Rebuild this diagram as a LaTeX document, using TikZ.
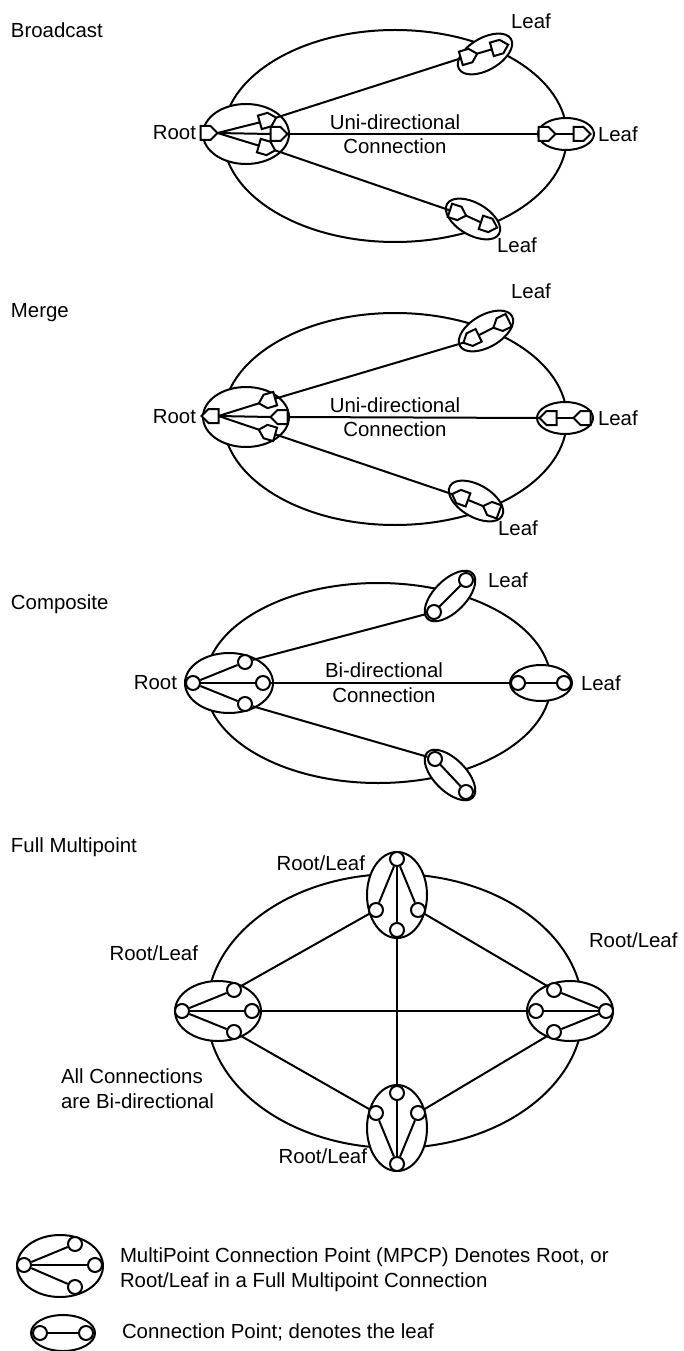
\documentclass[tikz,border=0pt]{standalone}
\usepackage{fontspec}
\setmainfont{Liberation Sans}
\usetikzlibrary{shapes.geometric}
\tikzset{
  pent/.pic={
    \draw[fill=white] (-8.5,-7) -- (1.5,-7) -- (8.5,0) -- (1.5,7) -- (-8.5,7) -- cycle;
    \coordinate (-b) at (-8.5,0);
    \coordinate (-t) at (8.5,0);
  },
  ell/.style n args={2}{ellipse, draw, fill=white, inner sep=0pt, minimum width=#1*0.75pt, minimum height=#2*0.75pt},
  bigell/.style n args={2}{ellipse, draw, inner sep=0pt, minimum width=#1*0.75pt, minimum height=#2*0.75pt},
  cp/.style={circle, draw, fill=white, inner sep=0pt, minimum size=10.5pt},
  lbl/.style={font=\fontsize{15.3}{18.5}\selectfont, inner sep=0pt},
}
\begin{document}
\begin{tikzpicture}[x=0.75pt,y=-0.75pt,line width=1.5pt]
\useasboundingbox (0,0) rectangle (683,1351);

% ================= Broadcast =================
\node[lbl, anchor=west] (tB) at (10,30) {Broadcast};
\node[bigell={344}{212}] (eB) at (395,136) {};
\node[ell={86}{60}] (rB) at (246,134) {};
\node[ell={60}{32}, rotate=30] (lB1) at (485,54) {};
\node[ell={56}{32}] (lB2) at (566,134) {};
\node[ell={60}{32}, rotate=-30] (lB3) at (473,219) {};
\pic (pB0) at (209,133) {pent};
\pic[rotate=16] (pB1) at (268,120) {pent};
\pic (pB2) at (279,134) {pent};
\pic[rotate=-16] (pB3) at (267,148) {pent};
\pic[rotate=16] (qB1a) at (469,56) {pent};
\pic[rotate=16] (qB1b) at (500,47) {pent};
\pic (qB2a) at (547,134) {pent};
\pic (qB2b) at (582,134) {pent};
\pic[rotate=-18] (qB3a) at (458,213) {pent};
\pic[rotate=-18] (qB3b) at (489,225) {pent};
\draw (pB0-t) -- (pB1-b);
\draw (pB0-t) -- (pB2-b);
\draw (pB0-t) -- (pB3-b);
\draw (pB1-t) -- (qB1a-b);
\draw (pB2-t) -- (qB2a-b);
\draw (pB3-t) -- (qB3a-b);
\draw (qB1a-t) -- (qB1b-b);
\draw (qB2a-t) -- (qB2b-b);
\draw (qB3a-t) -- (qB3b-b);
\node[lbl, anchor=east] (xB0) at (197,133) {Root};
\node[lbl] (xB1) at (531,21) {Leaf};
\node[lbl, anchor=west] (xB2) at (597,134) {Leaf};
\node[lbl] (xB3) at (517,245) {Leaf};
\node[lbl] (uB1) at (395,122) {Uni-directional};
\node[lbl] (uB2) at (395,146) {Connection};

% ================= Merge =================
\node[lbl, anchor=west] (tM) at (10,313) {Merge};
\node[bigell={344}{212}] (eM) at (395,419) {};
\node[ell={86}{60}] (rM) at (246,417) {};
\node[ell={60}{32}, rotate=30] (lM1) at (486,331) {};
\node[ell={56}{32}] (lM2) at (565,418) {};
\node[ell={60}{32}, rotate=-30] (lM3) at (476,501) {};
\pic[rotate=180] (pM0) at (210,416) {pent};
\pic[rotate=196] (pM1) at (267,401) {pent};
\pic[rotate=180] (pM2) at (279,417) {pent};
\pic[rotate=164] (pM3) at (267,432) {pent};
\pic[rotate=206] (qM1a) at (471,339) {pent};
\pic[rotate=206] (qM1b) at (501,324) {pent};
\pic[rotate=180] (qM2a) at (548,418) {pent};
\pic[rotate=180] (qM2b) at (582,418) {pent};
\pic[rotate=160] (qM3a) at (460,497) {pent};
\pic[rotate=160] (qM3b) at (491,509) {pent};
\draw (pM1-t) -- (pM0-b);
\draw (pM2-t) -- (pM0-b);
\draw (pM3-t) -- (pM0-b);
\draw (qM1a-t) -- (pM1-b);
\draw (qM2a-t) -- (pM2-b);
\draw (qM3a-t) -- (pM3-b);
\draw (qM1b-t) -- (qM1a-b);
\draw (qM2b-t) -- (qM2a-b);
\draw (qM3b-t) -- (qM3a-b);
\node[lbl, anchor=east] (xM0) at (197,417) {Root};
\node[lbl] (xM1) at (531,291) {Leaf};
\node[lbl, anchor=west] (xM2) at (597,418) {Leaf};
\node[lbl] (xM3) at (518,528) {Leaf};
\node[lbl] (uM1) at (395,405) {Uni-directional};
\node[lbl] (uM2) at (395,429) {Connection};

% ================= Composite =================
\node[lbl, anchor=west] (tC) at (10,604) {Composite};
\node[bigell={346}{200}] (eC) at (378,683) {};
\node[ell={88}{60}] (rC) at (229,683) {};
\node[ell={64}{32}, rotate=45] (lC1) at (450,596) {};
\node[ell={62}{36}] (lC2) at (541,683) {};
\node[ell={64}{32}, rotate=-45] (lC3) at (450,775) {};
\node[cp] (cC0) at (193,683) {};
\node[cp] (cC1) at (245,662) {};
\node[cp] (cC2) at (263,683) {};
\node[cp] (cC3) at (245,704) {};
\node[cp] (dC1a) at (434,612) {};
\node[cp] (dC1b) at (466,580) {};
\node[cp] (dC2a) at (518,683) {};
\node[cp] (dC2b) at (564,683) {};
\node[cp] (dC3a) at (435,759) {};
\node[cp] (dC3b) at (466,792) {};
\draw (cC0) -- (cC1);
\draw (cC0) -- (cC2);
\draw (cC0) -- (cC3);
\draw (cC1) -- (dC1a);
\draw (cC2) -- (dC2a);
\draw (cC3) -- (dC3a);
\draw (dC1a) -- (dC1b);
\draw (dC2a) -- (dC2b);
\draw (dC3a) -- (dC3b);
\node[lbl, anchor=east] (xC0) at (178,683) {Root};
\node[lbl] (xC1) at (508,580) {Leaf};
\node[lbl, anchor=west] (xC2) at (580,683) {Leaf};
\node[lbl] (uC1) at (384,670) {Bi-directional};
\node[lbl] (uC2) at (384,695) {Connection};

% ================= Full Multipoint =================
\node[lbl, anchor=west] (tF) at (10,847) {Full Multipoint};
\node[bigell={376}{274}] (eF) at (395,1011) {};
\node[ell={60}{86}] (nT) at (397,895) {};
\node[ell={86}{60}] (nL) at (218,1011) {};
\node[ell={86}{60}] (nR) at (570,1011) {};
\node[ell={60}{86}] (nB) at (397,1128) {};
\node[cp] (T0) at (397,859) {};
\node[cp] (T1) at (376,910) {};
\node[cp] (T2) at (397,930) {};
\node[cp] (T3) at (418,910) {};
\node[cp] (B0) at (397,1164) {};
\node[cp] (B1) at (376,1113) {};
\node[cp] (B2) at (397,1093) {};
\node[cp] (B3) at (418,1113) {};
\node[cp] (L0) at (182,1011) {};
\node[cp] (L1) at (234,990) {};
\node[cp] (L2) at (252,1011) {};
\node[cp] (L3) at (234,1032) {};
\node[cp] (R0) at (606,1011) {};
\node[cp] (R1) at (554,990) {};
\node[cp] (R2) at (536,1011) {};
\node[cp] (R3) at (554,1032) {};
\draw (T0) -- (T1); \draw (T0) -- (T2); \draw (T0) -- (T3);
\draw (B0) -- (B1); \draw (B0) -- (B2); \draw (B0) -- (B3);
\draw (L0) -- (L1); \draw (L0) -- (L2); \draw (L0) -- (L3);
\draw (R0) -- (R1); \draw (R0) -- (R2); \draw (R0) -- (R3);
\draw (T1) -- (L1);
\draw (T3) -- (R1);
\draw (T2) -- (B2);
\draw (L2) -- (R2);
\draw (L3) -- (B1);
\draw (R3) -- (B3);
\node[lbl, anchor=east] (xF0) at (366,863) {Root/Leaf};
\node[lbl, anchor=east] (xF1) at (199,953) {Root/Leaf};
\node[lbl, anchor=west] (xF2) at (588,940) {Root/Leaf};
\node[lbl, anchor=east] (xF3) at (368,1156) {Root/Leaf};
\node[lbl, anchor=north west, align=left] (xF4) at (60,1068) {All Connections\\are Bi-directional};

% ================= Legend =================
\node[ell={86}{62}] (gM) at (60,1266) {};
\node[cp] (gM0) at (24,1265) {};
\node[cp] (gM1) at (75,1244) {};
\node[cp] (gM2) at (95,1265) {};
\node[cp] (gM3) at (75,1287) {};
\draw (gM0) -- (gM1); \draw (gM0) -- (gM2); \draw (gM0) -- (gM3);
\node[lbl, anchor=west, align=left] (gMt) at (119,1270) {MultiPoint Connection Point (MPCP) Denotes Root, or\\Root/Leaf in a Full Multipoint Connection};
\node[ell={64}{36}] (gC) at (63,1333) {};
\node[cp] (gC0) at (40,1333) {};
\node[cp] (gC1) at (86,1333) {};
\draw (gC0) -- (gC1);
\node[lbl, anchor=west] (gCt) at (121,1332) {Connection Point; denotes the leaf};
\end{tikzpicture}
\end{document}
